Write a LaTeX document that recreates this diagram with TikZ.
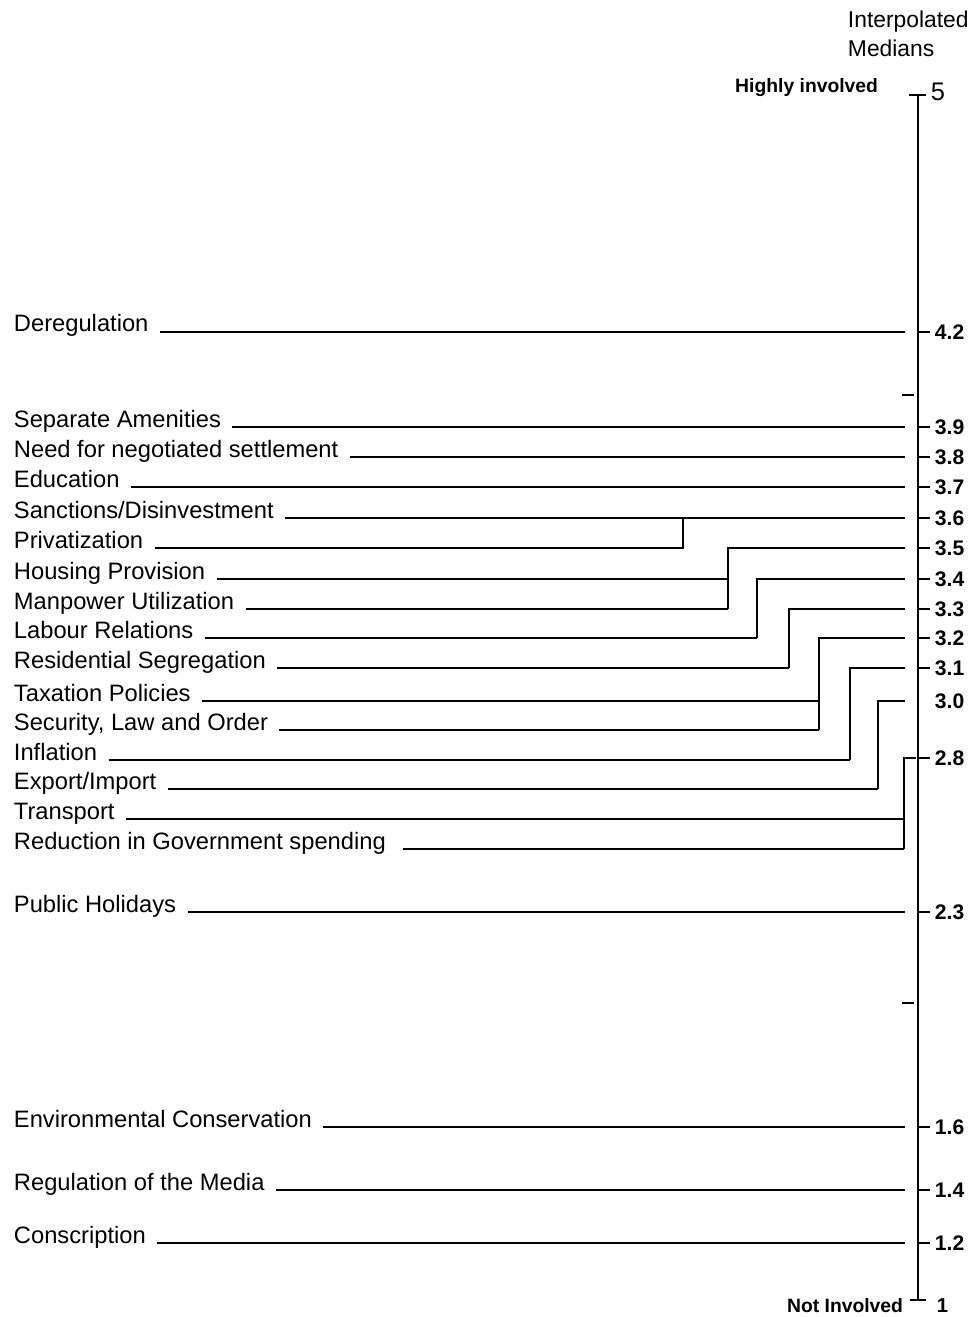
\documentclass[tikz,border=0pt]{standalone}
\usepackage{fontspec}
\setmainfont{Liberation Sans}
\usetikzlibrary{positioning,calc}

\begin{document}
\begin{tikzpicture}[x=0.02cm, y=-0.02cm, line width=1.1pt,
    every node/.style={inner sep=0pt},
    item/.style={anchor=base west, font=\fontsize{13.5}{16}\selectfont},
    val/.style={anchor=west, font=\fontsize{12}{14}\selectfont\bfseries},
    side/.style={font=\fontsize{11}{13}\selectfont\bfseries}]
    \useasboundingbox (0,0) rectangle (969,1317);

    % Axis
    \coordinate (top) at (918,95);
    \coordinate (bot) at (918,1300);
    \draw (top) -- (bot);
    \draw (909,95) -- (926,95);
    \draw (910,1300) -- (926,1300);
    \draw (902,395) -- (914,395);
    \draw (902,1003) -- (914,1003);
    \node[anchor=west, font=\fontsize{14.5}{16}\selectfont] (v50) at (930,92) {5};
    \node[anchor=west, font=\fontsize{11.5}{13}\selectfont\bfseries] (v10) at (936,1306) {1};
    \node[side, anchor=east] (high) at (879,88) {Highly involved};
    \node[side, anchor=east] (low) at (904,1306) {Not Involved};
    \node[anchor=west, font=\fontsize{13}{15}\selectfont] (head1) at (847,22) {Interpolated};
    \node[anchor=west, font=\fontsize{13}{15}\selectfont] (head2) at (847,48) {Medians};

    % Medians on the scale
    \foreach \n/\v/\y in {42/4.2/332, 39/3.9/427, 38/3.8/457, 37/3.7/487, 36/3.6/518,
        35/3.5/548, 34/3.4/579, 33/3.3/609, 32/3.2/638, 31/3.1/668,
        28/2.8/758, 23/2.3/912, 16/1.6/1127, 14/1.4/1190, 12/1.2/1243} {
        \draw (918,\y) -- (930,\y);
        \node[val] (v\n) at (934,\y) {\v};
        \coordinate (e\n) at (905,\y);
    }
    \node[val] (v30) at (934,701) {3.0};
    \coordinate (e30) at (905,701);

    % Items
    \node[item] (dereg) at (13,332) {Deregulation};
    \node[item] (amen) at (13,427) {Separate Amenities};
    \node[item] (settle) at (13,457) {Need for negotiated settlement};
    \node[item] (educ) at (13,487) {Education};
    \node[item] (sanct) at (13,518) {Sanctions/Disinvestment};
    \node[item] (priv) at (13,548) {Privatization};
    \node[item] (housing) at (13,579) {Housing Provision};
    \node[item] (manpow) at (13,609) {Manpower Utilization};
    \node[item] (labour) at (13,638) {Labour Relations};
    \node[item] (resid) at (13,668) {Residential Segregation};
    \node[item] (tax) at (13,701) {Taxation Policies};
    \node[item] (secur) at (13,730) {Security, Law and Order};
    \node[item] (infl) at (13,760) {Inflation};
    \node[item] (export) at (13,789) {Export/Import};
    \node[item] (transp) at (13,819) {Transport};
    \node[item] (spend) at (13,849) {Reduction in Government spending};
    \node[item] (holid) at (13,912) {Public Holidays};
    \node[item] (envir) at (13,1127) {Environmental Conservation};
    \node[item] (media) at (13,1190) {Regulation of the Media};
    \node[item] (consc) at (13,1243) {Conscription};

    % Single items
    \draw ([xshift=6pt]dereg.base east) -- (e42);
    \draw ([xshift=6pt]amen.base east) -- (e39);
    \draw ([xshift=6pt]settle.base east) -- (e38);
    \draw ([xshift=6pt]educ.base east) -- (e37);
    \draw ([xshift=6pt]sanct.base east) -- (e36);
    \draw ([xshift=6pt]holid.base east) -- (e23);
    \draw ([xshift=6pt]envir.base east) -- (e16);
    \draw ([xshift=6pt]media.base east) -- (e14);
    \draw ([xshift=6pt]consc.base east) -- (e12);

    % Brackets
    \coordinate (k36) at (683,518);
    \coordinate (k35) at (728,548);
    \coordinate (k34) at (757,579);
    \coordinate (k33) at (789,609);
    \coordinate (k32) at (819,638);
    \coordinate (k31) at (850,668);
    \coordinate (k30) at (878,701);
    \coordinate (k28) at (904,758);

    \draw ([xshift=6pt]priv.base east) -- (priv.base -| k36) -- (k36);

    \draw (e35) -- (k35) -- (k35 |- manpow.base);
    \draw ([xshift=6pt]housing.base east) -- (housing.base -| k35);
    \draw ([xshift=6pt]manpow.base east) -- (manpow.base -| k35);

    \draw (e34) -- (k34) -- (k34 |- labour.base);
    \draw ([xshift=6pt]labour.base east) -- (labour.base -| k34);

    \draw (e33) -- (k33) -- (k33 |- resid.base);
    \draw ([xshift=6pt]resid.base east) -- (resid.base -| k33);

    \draw (e32) -- (k32) -- (k32 |- secur.base);
    \draw ([xshift=6pt]tax.base east) -- (tax.base -| k32);
    \draw ([xshift=6pt]secur.base east) -- (secur.base -| k32);

    \draw (e31) -- (k31) -- (k31 |- infl.base);
    \draw ([xshift=6pt]infl.base east) -- (infl.base -| k31);

    \draw (e30) -- (k30) -- (k30 |- export.base);
    \draw ([xshift=6pt]export.base east) -- (export.base -| k30);

    \draw ([xshift=7]k28) -- (k28) -- (k28 |- spend.base);
    \draw ([xshift=6pt]transp.base east) -- (transp.base -| k28);
    \draw ([xshift=9pt]spend.base east) -- (spend.base -| k28);
\end{tikzpicture}
\end{document}
